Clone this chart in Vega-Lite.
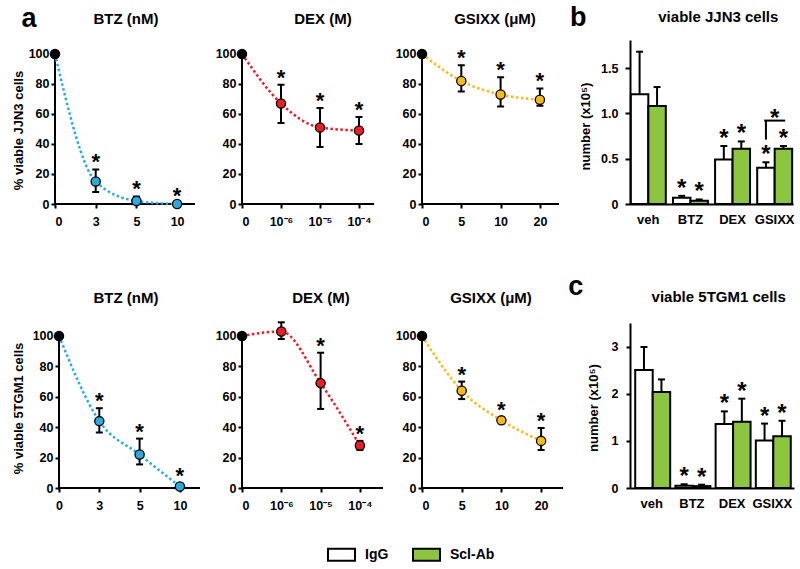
{
"$schema": "https://vega.github.io/schema/vega-lite/v6.json",
"padding": {"left": 12, "top": 4, "right": 5, "bottom": 5},
"background": "white",
"datasets": {
"lines": [
{"p":"J-BTZ","i":0,"v":100,"lo":null,"hi":null,"s":false},
{"p":"J-BTZ","i":1,"v":15,"lo":8,"hi":23,"s":true},
{"p":"J-BTZ","i":2,"v":2,"lo":0,"hi":5,"s":true},
{"p":"J-BTZ","i":3,"v":0,"lo":0,"hi":0.6,"s":true},
{"p":"J-DEX","i":0,"v":100,"lo":null,"hi":null,"s":false},
{"p":"J-DEX","i":1,"v":67,"lo":54,"hi":79.5,"s":true},
{"p":"J-DEX","i":2,"v":51,"lo":38,"hi":64,"s":true},
{"p":"J-DEX","i":3,"v":49,"lo":40,"hi":58,"s":true},
{"p":"J-GSI","i":0,"v":100,"lo":null,"hi":null,"s":false},
{"p":"J-GSI","i":1,"v":82,"lo":75,"hi":92.5,"s":true},
{"p":"J-GSI","i":2,"v":73,"lo":65,"hi":84.5,"s":true},
{"p":"J-GSI","i":3,"v":69.5,"lo":65.5,"hi":77,"s":true},
{"p":"T-BTZ","i":0,"v":100,"lo":null,"hi":null,"s":false},
{"p":"T-BTZ","i":1,"v":44,"lo":36.5,"hi":52.5,"s":true},
{"p":"T-BTZ","i":2,"v":22,"lo":15.5,"hi":32.5,"s":true},
{"p":"T-BTZ","i":3,"v":1,"lo":0,"hi":3,"s":true},
{"p":"T-DEX","i":0,"v":100,"lo":null,"hi":null,"s":false},
{"p":"T-DEX","i":1,"v":103,"lo":98,"hi":109,"s":false},
{"p":"T-DEX","i":2,"v":69,"lo":52,"hi":89,"s":true},
{"p":"T-DEX","i":3,"v":28,"lo":25,"hi":31,"s":true},
{"p":"T-GSI","i":0,"v":100,"lo":null,"hi":null,"s":false},
{"p":"T-GSI","i":1,"v":64,"lo":58.5,"hi":70,"s":true},
{"p":"T-GSI","i":2,"v":44.5,"lo":42.5,"hi":46.5,"s":true},
{"p":"T-GSI","i":3,"v":31,"lo":25,"hi":39.5,"s":true}
],
"bars": [
{"pn":"b","cat":"veh","grp":"IgG","val":1.21,"err":1.68,"s":false},
{"pn":"b","cat":"veh","grp":"Scl-Ab","val":1.08,"err":1.29,"s":false},
{"pn":"b","cat":"BTZ","grp":"IgG","val":0.07,"err":0.09,"s":true},
{"pn":"b","cat":"BTZ","grp":"Scl-Ab","val":0.035,"err":0.05,"s":true},
{"pn":"b","cat":"DEX","grp":"IgG","val":0.49,"err":0.64,"s":true},
{"pn":"b","cat":"DEX","grp":"Scl-Ab","val":0.61,"err":0.69,"s":true},
{"pn":"b","cat":"GSIXX","grp":"IgG","val":0.40,"err":0.46,"s":true},
{"pn":"b","cat":"GSIXX","grp":"Scl-Ab","val":0.61,"err":0.64,"s":true},
{"pn":"c","cat":"veh","grp":"IgG","val":2.51,"err":3.0,"s":false},
{"pn":"c","cat":"veh","grp":"Scl-Ab","val":2.04,"err":2.31,"s":false},
{"pn":"c","cat":"BTZ","grp":"IgG","val":0.05,"err":0.08,"s":true},
{"pn":"c","cat":"BTZ","grp":"Scl-Ab","val":0.04,"err":0.07,"s":true},
{"pn":"c","cat":"DEX","grp":"IgG","val":1.36,"err":1.63,"s":true},
{"pn":"c","cat":"DEX","grp":"Scl-Ab","val":1.41,"err":1.9,"s":true},
{"pn":"c","cat":"GSIXX","grp":"IgG","val":1.01,"err":1.37,"s":true},
{"pn":"c","cat":"GSIXX","grp":"Scl-Ab","val":1.1,"err":1.43,"s":true}
],
"bracket": [
{"pn":"b","cat":"GSIXX","grp":"IgG","val":0.71,"err":0.92}
]
},
"concat": [
{
"width": 185, "height": 164,
"data": {"name": "lines"},
"transform": [{"filter": "datum.p == 'J-BTZ'"}],
"encoding": {
"x": {"field": "i", "type": "quantitative", "scale": {"domain": [0, 4.545], "nice": false, "zero": false}, "axis": {"title": null, "values": [0,1,2,3], "labelExpr": "['0','3','5','10'][datum.value]", "domain": false, "labelPadding": 7}},
"y": {"field": "v", "type": "quantitative", "scale": {"domain": [0, 109.33], "nice": false}, "axis": {"title": "% viable JJN3 cells", "values": [0,20,40,60,80,100], "domain": false, "titleX": -30, "titleY": 90}}
},
"layer": [
{"mark": {"type": "rule", "strokeWidth": 2, "color": "black", "strokeCap": "square"}, "encoding": {"x": {"datum": 0}, "y": {"datum": 0}, "y2": {"datum": 100}}},
{"mark": {"type": "rule", "strokeWidth": 2, "color": "black", "strokeCap": "square"}, "encoding": {"x": {"datum": 0}, "x2": {"datum": 3.415}, "y": {"datum": 0}}},
{"mark": {"type": "line", "color": "#29ABE2", "strokeWidth": 2.5, "strokeDash": [2.5, 2.5], "interpolate": "monotone"}},
{"transform": [{"filter": "datum.i > 0"}], "mark": {"type": "rule", "color": "black", "strokeWidth": 2}, "encoding": {"y": {"field": "lo", "type": "quantitative"}, "y2": {"field": "hi"}}},
{"transform": [{"filter": "datum.i > 0"}], "mark": {"type": "tick", "orient": "horizontal", "size": 7, "thickness": 2, "color": "black", "opacity": 1}, "encoding": {"y": {"field": "hi", "type": "quantitative"}}},
{"transform": [{"filter": "datum.i > 0"}], "mark": {"type": "tick", "orient": "horizontal", "size": 7, "thickness": 2, "color": "black", "opacity": 1}, "encoding": {"y": {"field": "lo", "type": "quantitative"}}},
{"mark": {"type": "point", "filled": true, "size": 85, "stroke": "black", "strokeWidth": 1.3, "opacity": 1}, "encoding": {"fill": {"condition": {"test": "datum.i == 0", "value": "black"}, "value": "#29ABE2"}}},
{"transform": [{"filter": "datum.s"}], "mark": {"type": "text", "text": "*", "fontSize": 22, "fontWeight": "bold", "baseline": "alphabetic", "color": "black"}, "encoding": {"y": {"field": "hi", "type": "quantitative"}}},
{"transform": [{"filter": "datum.i == 0"}], "mark": {"type": "text", "text": "BTZ (nM)", "fontSize": 15, "fontWeight": "bold", "align": "center", "baseline": "alphabetic", "dx": 71, "dy": -16, "color": "black"}, "encoding": {"x": {"datum": 0}, "y": {"datum": 109.33}}},
{"transform": [{"filter": "datum.i == 0"}], "mark": {"type": "text", "text": "a", "font": "Liberation Sans", "fontSize": 27, "fontWeight": "bold", "dx": -26, "dy": -13, "baseline": "alphabetic", "color": "black"}, "encoding": {"x": {"datum": 0}, "y": {"datum": 109.33}}}
]
},
{
"width": 178, "height": 164,
"data": {"name": "lines"},
"transform": [{"filter": "datum.p == 'J-DEX'"}],
"encoding": {
"x": {"field": "i", "type": "quantitative", "scale": {"domain": [0, 4.564], "nice": false, "zero": false}, "axis": {"title": null, "values": [0,1,2,3], "labelExpr": "['0','10⁻⁶','10⁻⁵','10⁻⁴'][datum.value]", "domain": false, "labelPadding": 7}},
"y": {"field": "v", "type": "quantitative", "scale": {"domain": [0, 109.33], "nice": false}, "axis": {"title": null, "values": [0,20,40,60,80,100], "domain": false}}
},
"layer": [
{"mark": {"type": "rule", "strokeWidth": 2, "color": "black", "strokeCap": "square"}, "encoding": {"x": {"datum": 0}, "y": {"datum": 0}, "y2": {"datum": 100}}},
{"mark": {"type": "rule", "strokeWidth": 2, "color": "black", "strokeCap": "square"}, "encoding": {"x": {"datum": 0}, "x2": {"datum": 3.36}, "y": {"datum": 0}}},
{"mark": {"type": "line", "color": "#EE1C24", "strokeWidth": 2.5, "strokeDash": [2.5, 2.5], "interpolate": "monotone"}},
{"transform": [{"filter": "datum.i > 0"}], "mark": {"type": "rule", "color": "black", "strokeWidth": 2}, "encoding": {"y": {"field": "lo", "type": "quantitative"}, "y2": {"field": "hi"}}},
{"transform": [{"filter": "datum.i > 0"}], "mark": {"type": "tick", "orient": "horizontal", "size": 7, "thickness": 2, "color": "black", "opacity": 1}, "encoding": {"y": {"field": "hi", "type": "quantitative"}}},
{"transform": [{"filter": "datum.i > 0"}], "mark": {"type": "tick", "orient": "horizontal", "size": 7, "thickness": 2, "color": "black", "opacity": 1}, "encoding": {"y": {"field": "lo", "type": "quantitative"}}},
{"mark": {"type": "point", "filled": true, "size": 85, "stroke": "black", "strokeWidth": 1.3, "opacity": 1}, "encoding": {"fill": {"condition": {"test": "datum.i == 0", "value": "black"}, "value": "#EE1C24"}}},
{"transform": [{"filter": "datum.s"}], "mark": {"type": "text", "text": "*", "fontSize": 22, "fontWeight": "bold", "baseline": "alphabetic", "color": "black"}, "encoding": {"y": {"field": "hi", "type": "quantitative"}}},
{"transform": [{"filter": "datum.i == 0"}], "mark": {"type": "text", "text": "DEX (M)", "fontSize": 15, "fontWeight": "bold", "align": "center", "baseline": "alphabetic", "dx": 81, "dy": -16, "color": "black"}, "encoding": {"x": {"datum": 0}, "y": {"datum": 109.33}}}
]
},
{
"width": 208, "height": 164,
"data": {"name": "lines"},
"transform": [{"filter": "datum.p == 'J-GSI'"}],
"encoding": {
"x": {"field": "i", "type": "quantitative", "scale": {"domain": [0, 5.293], "nice": false, "zero": false}, "axis": {"title": null, "values": [0,1,2,3], "labelExpr": "['0','5','10','20'][datum.value]", "domain": false, "labelPadding": 7}},
"y": {"field": "v", "type": "quantitative", "scale": {"domain": [0, 109.33], "nice": false}, "axis": {"title": null, "values": [0,20,40,60,80,100], "domain": false}}
},
"layer": [
{"mark": {"type": "rule", "strokeWidth": 2, "color": "black", "strokeCap": "square"}, "encoding": {"x": {"datum": 0}, "y": {"datum": 0}, "y2": {"datum": 100}}},
{"mark": {"type": "rule", "strokeWidth": 2, "color": "black", "strokeCap": "square"}, "encoding": {"x": {"datum": 0}, "x2": {"datum": 3.46}, "y": {"datum": 0}}},
{"mark": {"type": "line", "color": "#FDB913", "strokeWidth": 2.5, "strokeDash": [2.5, 2.5], "interpolate": "monotone"}},
{"transform": [{"filter": "datum.i > 0"}], "mark": {"type": "rule", "color": "black", "strokeWidth": 2}, "encoding": {"y": {"field": "lo", "type": "quantitative"}, "y2": {"field": "hi"}}},
{"transform": [{"filter": "datum.i > 0"}], "mark": {"type": "tick", "orient": "horizontal", "size": 7, "thickness": 2, "color": "black", "opacity": 1}, "encoding": {"y": {"field": "hi", "type": "quantitative"}}},
{"transform": [{"filter": "datum.i > 0"}], "mark": {"type": "tick", "orient": "horizontal", "size": 7, "thickness": 2, "color": "black", "opacity": 1}, "encoding": {"y": {"field": "lo", "type": "quantitative"}}},
{"mark": {"type": "point", "filled": true, "size": 85, "stroke": "black", "strokeWidth": 1.3, "opacity": 1}, "encoding": {"fill": {"condition": {"test": "datum.i == 0", "value": "black"}, "value": "#FDB913"}}},
{"transform": [{"filter": "datum.s"}], "mark": {"type": "text", "text": "*", "fontSize": 22, "fontWeight": "bold", "baseline": "alphabetic", "color": "black"}, "encoding": {"y": {"field": "hi", "type": "quantitative"}}},
{"transform": [{"filter": "datum.i == 0"}], "mark": {"type": "text", "text": "GSIXX (μM)", "fontSize": 15, "fontWeight": "bold", "align": "center", "baseline": "alphabetic", "dx": 73, "dy": -16, "color": "black"}, "encoding": {"x": {"datum": 0}, "y": {"datum": 109.33}}}
]
},
{
"width": 163, "height": 164,
"data": {"name": "bars"},
"transform": [{"filter": "datum.pn == 'b'"}],
"encoding": {
"x": {"field": "cat", "type": "nominal", "scale": {"domain": ["veh","BTZ","DEX","GSIXX"], "paddingInner": 0.17, "paddingOuter": 0.02}, "axis": {"title": null, "ticks": false, "tickSize": 0, "labelAngle": 0, "labelFontSize": 13, "labelPadding": 9}},
"y": {"field": "val", "type": "quantitative", "scale": {"domain": [0, 1.809], "nice": false}, "axis": {"title": "number (x10⁵)", "values": [0,0.5,1,1.5], "labelExpr": "datum.value == 0 ? '0' : format(datum.value, '.1f')", "tickSize": 5, "labelPadding": 7, "titleX": -38, "titleY": 86}}
},
"layer": [
{"mark": {"type": "bar", "stroke": "black", "strokeWidth": 2}, "encoding": {"xOffset": {"field": "grp", "scale": {"domain": ["IgG","Scl-Ab"]}}, "fill": {"field": "grp", "type": "nominal", "scale": {"domain": ["IgG","Scl-Ab"], "range": ["white","#8CC63F"]}, "legend": {"title": null, "orient": "none", "direction": "horizontal", "legendX": 272, "legendY": 500, "symbolType": "M-1,-0.444H1V0.444H-1Z", "symbolSize": 729, "symbolStrokeColor": "black", "symbolStrokeWidth": 2, "labelFontSize": 14, "labelFontWeight": "bold", "labelColor": "black", "labelOffset": 9, "columnPadding": 20}}}},
{"mark": {"type": "rule", "color": "black", "strokeWidth": 2}, "encoding": {"xOffset": {"field": "grp"}, "y2": {"field": "err"}}},
{"mark": {"type": "tick", "orient": "horizontal", "size": 7, "thickness": 2, "color": "black", "opacity": 1}, "encoding": {"xOffset": {"field": "grp"}, "y": {"field": "err", "type": "quantitative"}}},
{"transform": [{"filter": "datum.s"}], "mark": {"type": "text", "text": "*", "fontSize": 24, "fontWeight": "bold", "baseline": "alphabetic", "color": "black"}, "encoding": {"xOffset": {"field": "grp"}, "y": {"field": "err", "type": "quantitative"}}},
{"data": {"name": "bracket"}, "mark": {"type": "rule", "color": "black", "strokeWidth": 2}, "encoding": {"xOffset": {"field": "grp"}, "y2": {"field": "err"}}},
{"data": {"name": "bracket"}, "mark": {"type": "tick", "orient": "horizontal", "size": 21, "thickness": 2, "color": "black", "opacity": 1}, "encoding": {"y": {"field": "err", "type": "quantitative"}}},
{"data": {"name": "bracket"}, "mark": {"type": "text", "text": "*", "fontSize": 24, "fontWeight": "bold", "baseline": "alphabetic", "color": "black", "dy": 5}, "encoding": {"y": {"field": "err", "type": "quantitative"}}},
{"transform": [{"filter": "datum.cat == 'veh' && datum.grp == 'IgG'"}], "mark": {"type": "text", "text": "viable JJN3 cells", "fontSize": 15, "fontWeight": "bold", "align": "center", "baseline": "alphabetic", "dx": 70, "dy": -18, "color": "black"}, "encoding": {"x": {"datum": "veh"}, "y": {"datum": 1.809}}},
{"transform": [{"filter": "datum.cat == 'veh' && datum.grp == 'IgG'"}], "mark": {"type": "text", "text": "b", "font": "Liberation Sans", "fontSize": 27, "fontWeight": "bold", "dx": -70, "dy": -14, "baseline": "alphabetic", "color": "black"}, "encoding": {"x": {"datum": "veh"}, "y": {"datum": 1.809}}}
]
},
{
"width": 187, "height": 165,
"data": {"name": "lines"},
"transform": [{"filter": "datum.p == 'T-BTZ'"}],
"encoding": {
"x": {"field": "i", "type": "quantitative", "scale": {"domain": [-0.0993, 4.541], "nice": false, "zero": false}, "axis": {"title": null, "values": [0,1,2,3], "labelExpr": "['0','3','5','10'][datum.value]", "domain": false, "labelPadding": 7}},
"y": {"field": "v", "type": "quantitative", "scale": {"domain": [0, 108.55], "nice": false}, "axis": {"title": "% viable 5TGM1 cells", "values": [0,20,40,60,80,100], "domain": false, "offset": -4, "titleX": -34, "titleY": 85}}
},
"layer": [
{"mark": {"type": "rule", "strokeWidth": 2, "color": "black", "strokeCap": "square"}, "encoding": {"x": {"datum": 0}, "y": {"datum": 0}, "y2": {"datum": 100}}},
{"mark": {"type": "rule", "strokeWidth": 2, "color": "black", "strokeCap": "square"}, "encoding": {"x": {"datum": 0}, "x2": {"datum": 3.474}, "y": {"datum": 0}}},
{"mark": {"type": "line", "color": "#29ABE2", "strokeWidth": 2.5, "strokeDash": [2.5, 2.5], "interpolate": "monotone"}},
{"transform": [{"filter": "datum.i > 0"}], "mark": {"type": "rule", "color": "black", "strokeWidth": 2}, "encoding": {"y": {"field": "lo", "type": "quantitative"}, "y2": {"field": "hi"}}},
{"transform": [{"filter": "datum.i > 0"}], "mark": {"type": "tick", "orient": "horizontal", "size": 7, "thickness": 2, "color": "black", "opacity": 1}, "encoding": {"y": {"field": "hi", "type": "quantitative"}}},
{"transform": [{"filter": "datum.i > 0"}], "mark": {"type": "tick", "orient": "horizontal", "size": 7, "thickness": 2, "color": "black", "opacity": 1}, "encoding": {"y": {"field": "lo", "type": "quantitative"}}},
{"mark": {"type": "point", "filled": true, "size": 85, "stroke": "black", "strokeWidth": 1.3, "opacity": 1}, "encoding": {"fill": {"condition": {"test": "datum.i == 0", "value": "black"}, "value": "#29ABE2"}}},
{"transform": [{"filter": "datum.s"}], "mark": {"type": "text", "text": "*", "fontSize": 22, "fontWeight": "bold", "baseline": "alphabetic", "color": "black"}, "encoding": {"y": {"field": "hi", "type": "quantitative"}}},
{"transform": [{"filter": "datum.i == 0"}], "mark": {"type": "text", "text": "BTZ (nM)", "fontSize": 15, "fontWeight": "bold", "align": "center", "baseline": "alphabetic", "dx": 67, "dy": -20, "color": "black"}, "encoding": {"x": {"datum": 0}, "y": {"datum": 108.55}}}
]
},
{
"width": 180, "height": 165,
"data": {"name": "lines"},
"transform": [{"filter": "datum.p == 'T-DEX'"}],
"encoding": {
"x": {"field": "i", "type": "quantitative", "scale": {"domain": [0, 4.58], "nice": false, "zero": false}, "axis": {"title": null, "values": [0,1,2,3], "labelExpr": "['0','10⁻⁶','10⁻⁵','10⁻⁴'][datum.value]", "domain": false, "labelPadding": 7}},
"y": {"field": "v", "type": "quantitative", "scale": {"domain": [0, 108.55], "nice": false}, "axis": {"title": null, "values": [0,20,40,60,80,100], "domain": false}}
},
"layer": [
{"mark": {"type": "rule", "strokeWidth": 2, "color": "black", "strokeCap": "square"}, "encoding": {"x": {"datum": 0}, "y": {"datum": 0}, "y2": {"datum": 100}}},
{"mark": {"type": "rule", "strokeWidth": 2, "color": "black", "strokeCap": "square"}, "encoding": {"x": {"datum": 0}, "x2": {"datum": 3.56}, "y": {"datum": 0}}},
{"mark": {"type": "line", "color": "#EE1C24", "strokeWidth": 2.5, "strokeDash": [2.5, 2.5], "interpolate": "monotone"}},
{"transform": [{"filter": "datum.i > 0"}], "mark": {"type": "rule", "color": "black", "strokeWidth": 2}, "encoding": {"y": {"field": "lo", "type": "quantitative"}, "y2": {"field": "hi"}}},
{"transform": [{"filter": "datum.i > 0"}], "mark": {"type": "tick", "orient": "horizontal", "size": 7, "thickness": 2, "color": "black", "opacity": 1}, "encoding": {"y": {"field": "hi", "type": "quantitative"}}},
{"transform": [{"filter": "datum.i > 0"}], "mark": {"type": "tick", "orient": "horizontal", "size": 7, "thickness": 2, "color": "black", "opacity": 1}, "encoding": {"y": {"field": "lo", "type": "quantitative"}}},
{"mark": {"type": "point", "filled": true, "size": 85, "stroke": "black", "strokeWidth": 1.3, "opacity": 1}, "encoding": {"fill": {"condition": {"test": "datum.i == 0", "value": "black"}, "value": "#EE1C24"}}},
{"transform": [{"filter": "datum.s"}], "mark": {"type": "text", "text": "*", "fontSize": 22, "fontWeight": "bold", "baseline": "alphabetic", "color": "black"}, "encoding": {"y": {"field": "hi", "type": "quantitative"}}},
{"transform": [{"filter": "datum.i == 0"}], "mark": {"type": "text", "text": "DEX (M)", "fontSize": 15, "fontWeight": "bold", "align": "center", "baseline": "alphabetic", "dx": 79, "dy": -20, "color": "black"}, "encoding": {"x": {"datum": 0}, "y": {"datum": 108.55}}}
]
},
{
"width": 203, "height": 165,
"data": {"name": "lines"},
"transform": [{"filter": "datum.p == 'T-GSI'"}],
"encoding": {
"x": {"field": "i", "type": "quantitative", "scale": {"domain": [0, 5.113], "nice": false, "zero": false}, "axis": {"title": null, "values": [0,1,2,3], "labelExpr": "['0','5','10','20'][datum.value]", "domain": false, "labelPadding": 7}},
"y": {"field": "v", "type": "quantitative", "scale": {"domain": [0, 108.55], "nice": false}, "axis": {"title": null, "values": [0,20,40,60,80,100], "domain": false}}
},
"layer": [
{"mark": {"type": "rule", "strokeWidth": 2, "color": "black", "strokeCap": "square"}, "encoding": {"x": {"datum": 0}, "y": {"datum": 0}, "y2": {"datum": 100}}},
{"mark": {"type": "rule", "strokeWidth": 2, "color": "black", "strokeCap": "square"}, "encoding": {"x": {"datum": 0}, "x2": {"datum": 3.527}, "y": {"datum": 0}}},
{"mark": {"type": "line", "color": "#FDB913", "strokeWidth": 2.5, "strokeDash": [2.5, 2.5], "interpolate": "monotone"}},
{"transform": [{"filter": "datum.i > 0"}], "mark": {"type": "rule", "color": "black", "strokeWidth": 2}, "encoding": {"y": {"field": "lo", "type": "quantitative"}, "y2": {"field": "hi"}}},
{"transform": [{"filter": "datum.i > 0"}], "mark": {"type": "tick", "orient": "horizontal", "size": 7, "thickness": 2, "color": "black", "opacity": 1}, "encoding": {"y": {"field": "hi", "type": "quantitative"}}},
{"transform": [{"filter": "datum.i > 0"}], "mark": {"type": "tick", "orient": "horizontal", "size": 7, "thickness": 2, "color": "black", "opacity": 1}, "encoding": {"y": {"field": "lo", "type": "quantitative"}}},
{"mark": {"type": "point", "filled": true, "size": 85, "stroke": "black", "strokeWidth": 1.3, "opacity": 1}, "encoding": {"fill": {"condition": {"test": "datum.i == 0", "value": "black"}, "value": "#FDB913"}}},
{"transform": [{"filter": "datum.s"}], "mark": {"type": "text", "text": "*", "fontSize": 22, "fontWeight": "bold", "baseline": "alphabetic", "color": "black"}, "encoding": {"y": {"field": "hi", "type": "quantitative"}}},
{"transform": [{"filter": "datum.i == 0"}], "mark": {"type": "text", "text": "GSIXX (μM)", "fontSize": 15, "fontWeight": "bold", "align": "center", "baseline": "alphabetic", "dx": 69, "dy": -20, "color": "black"}, "encoding": {"x": {"datum": 0}, "y": {"datum": 108.55}}}
]
},
{
"width": 164, "height": 165,
"data": {"name": "bars"},
"transform": [{"filter": "datum.pn == 'c'"}],
"encoding": {
"x": {"field": "cat", "type": "nominal", "scale": {"domain": ["veh","BTZ","DEX","GSIXX"], "paddingInner": 0.18, "paddingOuter": 0.13}, "axis": {"title": null, "ticks": false, "tickSize": 0, "labelAngle": 0, "labelFontSize": 13, "labelPadding": 9}},
"y": {"field": "val", "type": "quantitative", "scale": {"domain": [0, 3.51], "nice": false}, "axis": {"title": "number (x10⁵)", "values": [0,1,2,3], "tickSize": 4, "labelPadding": 8, "titleX": -30, "titleY": 84.5}}
},
"layer": [
{"mark": {"type": "bar", "stroke": "black", "strokeWidth": 2}, "encoding": {"xOffset": {"field": "grp", "scale": {"domain": ["IgG","Scl-Ab"]}}, "fill": {"field": "grp", "type": "nominal", "scale": {"domain": ["IgG","Scl-Ab"], "range": ["white","#8CC63F"]}, "legend": {"title": null, "orient": "none", "direction": "horizontal", "legendX": 272, "legendY": 500, "symbolType": "M-1,-0.444H1V0.444H-1Z", "symbolSize": 729, "symbolStrokeColor": "black", "symbolStrokeWidth": 2, "labelFontSize": 14, "labelFontWeight": "bold", "labelColor": "black", "labelOffset": 9, "columnPadding": 20}}}},
{"mark": {"type": "rule", "color": "black", "strokeWidth": 2}, "encoding": {"xOffset": {"field": "grp"}, "y2": {"field": "err"}}},
{"mark": {"type": "tick", "orient": "horizontal", "size": 7, "thickness": 2, "color": "black", "opacity": 1}, "encoding": {"xOffset": {"field": "grp"}, "y": {"field": "err", "type": "quantitative"}}},
{"transform": [{"filter": "datum.s"}], "mark": {"type": "text", "text": "*", "fontSize": 24, "fontWeight": "bold", "baseline": "alphabetic", "color": "black"}, "encoding": {"xOffset": {"field": "grp"}, "y": {"field": "err", "type": "quantitative"}}},
{"transform": [{"filter": "datum.cat == 'veh' && datum.grp == 'IgG'"}], "mark": {"type": "text", "text": "viable 5TGM1 cells", "fontSize": 15, "fontWeight": "bold", "align": "center", "baseline": "alphabetic", "dx": 67, "dy": -21, "color": "black"}, "encoding": {"x": {"datum": "veh"}, "y": {"datum": 3.51}}},
{"transform": [{"filter": "datum.cat == 'veh' && datum.grp == 'IgG'"}], "mark": {"type": "text", "text": "c", "font": "Liberation Sans", "fontSize": 27, "fontWeight": "bold", "dx": -76, "dy": -28, "baseline": "alphabetic", "color": "black"}, "encoding": {"x": {"datum": "veh"}, "y": {"datum": 3.51}}}
]
}
],
"columns": 4,
"align": "none",
"bounds": "flush",
"spacing": {"row": 119, "column": 0},
"resolve": {"scale": {"fill": "shared"}, "legend": {"fill": "shared"}},
"config": {
"font": "Liberation Sans",
"view": {"stroke": null},
"axis": {"domainColor": "black", "domainWidth": 2, "tickColor": "black", "tickWidth": 2, "tickSize": 4, "labelColor": "black", "labelFont": "Liberation Sans", "labelFontWeight": "bold", "labelFontSize": 12.5, "labelPadding": 2, "titleFont": "Liberation Sans", "titleFontWeight": "bold", "titleFontSize": 13, "titleColor": "black", "grid": false},
"legend": {"labelFont": "Liberation Sans", "padding": 0}
}
}
